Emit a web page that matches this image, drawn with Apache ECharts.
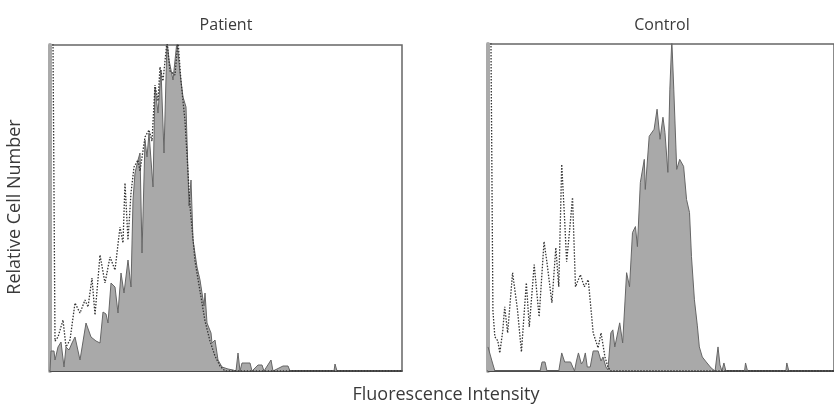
<!DOCTYPE html>
<html>
<head>
<meta charset="utf-8">
<script src="https://cdn.jsdelivr.net/npm/echarts@6/dist/echarts.min.js"></script>
<style>
  html, body { margin: 0; padding: 0; background: #fff; }
  #chart { width: 834px; height: 410px; }
</style>
</head>
<body>
<div id="chart"></div>
<script>
// panel titles and axis labels
const panelTitles = ['Patient', 'Control']
const xLabel = 'Fluorescence Intensity'
const yLabel = 'Relative Cell Number'

// [channel, count]
const patientFilled = [[0,0],[1,20],[4,20],[5,11],[8,24],[11,29],[14,4],[16,24],[19,21],[22,28],[25,34],[30,11],[36,48],[41,34],[46,30],[50,28],[53,59],[56,57],[58,48],[61,88],[65,84],[68,58],[71,98],[74,78],[78,111],[81,84],[83,171],[85,198],[88,211],[90,218],[92,118],[95,231],[97,214],[99,238],[103,184],[105,284],[108,258],[111,301],[114,218],[117,330],[119,311],[123,291],[127,330],[130,298],[133,274],[136,264],[139,165],[141,191],[143,131],[147,104],[150,91],[154,65],[155,78],[157,48],[161,38],[162,28],[165,31],[168,11],[172,4],[178,2],[183,1],[186,0],[188,18],[190,0],[192,8],[200,8],[202,0],[208,6],[212,6],[214,0],[221,11],[223,0],[233,5],[238,5],[240,0],[284,0],[285,7],[287,0],[352,0]]
const patientDotted = [[0,330],[3,330],[5,30],[8,34],[13,51],[16,24],[20,31],[25,68],[30,58],[35,71],[38,64],[42,93],[45,56],[50,116],[55,88],[60,114],[65,101],[70,144],[73,128],[75,188],[78,131],[81,178],[84,204],[88,211],[90,200],[95,234],[99,241],[102,230],[105,286],[108,270],[110,304],[113,290],[117,330],[120,300],[125,296],[128,330],[131,290],[135,250],[140,165],[145,110],[150,80],[155,50],[160,30],[165,15],[170,5],[175,0],[352,0]]
const controlFilled = [[0,24],[2,24],[4,10],[7,0],[53,0],[55,9],[58,9],[60,0],[72,0],[75,18],[78,9],[84,9],[88,0],[90,10],[92,18],[95,7],[97,10],[99,18],[101,4],[104,4],[107,20],[112,20],[115,10],[117,14],[120,4],[122,1],[125,38],[127,41],[129,24],[134,48],[137,28],[141,98],[144,84],[147,138],[150,144],[152,124],[155,188],[159,211],[160,181],[164,234],[169,241],[172,261],[175,231],[178,253],[180,238],[183,198],[185,281],[187,330],[189,281],[192,201],[195,211],[199,204],[202,171],[205,158],[207,114],[210,71],[213,45],[215,24],[218,14],[222,9],[227,3],[231,0],[233,0],[234,24],[236,6],[238,0],[240,8],[242,0],[261,0],[262,8],[264,0],[303,0],[304,8],[306,0],[352,0]]
const controlDotted = [[0,330],[3,330],[5,60],[7,34],[10,30],[12,18],[15,40],[17,64],[20,38],[25,98],[30,61],[34,19],[39,88],[42,44],[47,106],[52,54],[57,129],[60,108],[65,68],[69,123],[72,84],[75,206],[78,150],[80,109],[83,140],[86,173],[89,84],[94,96],[98,84],[102,91],[107,38],[112,23],[115,38],[119,14],[122,4],[125,0],[352,0]]

const xMax = 352
const yMax = 326
const font = 'Open Sans'

const chart = echarts.init(document.getElementById('chart'))

function axisX(i) {
  return {
    type: 'value', gridIndex: i, min: 0, max: xMax,
    axisLine: { show: true, lineStyle: { color: '#333', width: 1.5 } },
    axisTick: { show: false }, axisLabel: { show: false }, splitLine: { show: false }
  }
}
function axisY(i) {
  return {
    type: 'value', gridIndex: i, min: 0, max: yMax,
    axisLine: { show: true, lineStyle: { color: '#aaa', width: 4 } },
    axisTick: { show: false }, axisLabel: { show: false }, splitLine: { show: false }
  }
}
function filled(i, data) {
  return {
    type: 'line', xAxisIndex: i, yAxisIndex: i, data: data,
    symbol: 'none', clip: true,
    lineStyle: { color: '#666', width: 1 },
    areaStyle: { color: '#a9a9a9', opacity: 1 }
  }
}
function dotted(i, data) {
  return {
    type: 'line', xAxisIndex: i, yAxisIndex: i, data: data,
    symbol: 'none', clip: true,
    lineStyle: { color: '#333', width: 1.3, type: [1.5, 1.5] }
  }
}

chart.setOption({
  animation: false,
  grid: [
    { left: 50, top: 45, width: 352, height: 326, show: true, borderColor: '#666', borderWidth: 1.5 },
    { left: 488, top: 44, width: 352, height: 327, show: true, borderColor: '#666', borderWidth: 1.5 }
  ],
  xAxis: [axisX(0), axisX(1)],
  yAxis: [axisY(0), axisY(1)],
  series: [
    filled(0, patientFilled), dotted(0, patientDotted),
    filled(1, controlFilled), dotted(1, controlDotted)
  ],
  graphic: [
    { type: 'text', x: 226, y: 25, style: { text: panelTitles[0], font: '16px "' + font + '"', fill: '#3a3a3a', textAlign: 'center', textVerticalAlign: 'middle' } },
    { type: 'text', x: 662, y: 25, style: { text: panelTitles[1], font: '16px "' + font + '"', fill: '#3a3a3a', textAlign: 'center', textVerticalAlign: 'middle' } },
    { type: 'text', x: 446, y: 395, style: { text: xLabel, font: '18px "' + font + '"', fill: '#3a3a3a', textAlign: 'center', textVerticalAlign: 'middle' } },
    { type: 'text', x: 15, y: 207, rotation: Math.PI / 2, style: { text: yLabel, font: '18px "' + font + '"', fill: '#3a3a3a', textAlign: 'center', textVerticalAlign: 'middle' } }
  ]
})
</script>
</body>
</html>
